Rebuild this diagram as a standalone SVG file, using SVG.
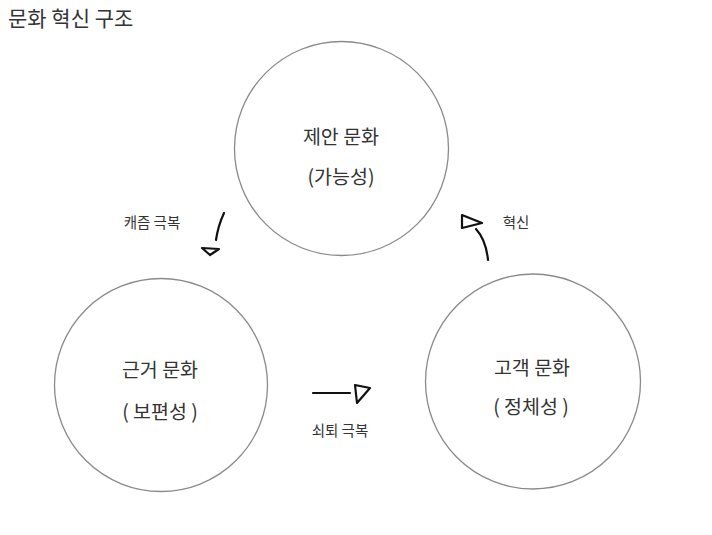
<svg xmlns="http://www.w3.org/2000/svg" width="712" height="535" viewBox="0 0 712 535">
<style>
.circ{fill:#fff;stroke:#8a8a8a;stroke-width:1.3}
.t{font-family:"Noto Sans CJK KR","Noto Sans",sans-serif;fill:#333;text-anchor:middle}
.big{font-size:19.5px}
.sm{font-size:14.5px}
.arr{fill:none;stroke:#111;stroke-width:2.2;stroke-linecap:round;stroke-linejoin:round}
</style>
<rect width="712" height="535" fill="#fff"/>
<text class="t" x="8" y="26" style="font-size:21px;text-anchor:start">문화 혁신 구조</text>
<g id="node-proposal">
<circle class="circ" cx="341.5" cy="148.5" r="107"/>
<text class="t big" x="341" y="144">제안 문화</text>
<text class="t big" x="341" y="184">(가능성)</text>
</g>
<g id="node-basis">
<circle class="circ" cx="161" cy="385" r="106.5"/>
<text class="t big" x="160" y="377">근거 문화</text>
<text class="t big" x="160" y="419">( 보편성 )</text>
</g>
<g id="node-customer">
<circle class="circ" cx="533" cy="381.5" r="107.5"/>
<text class="t big" x="532" y="375">고객 문화</text>
<text class="t big" x="531" y="414">( 정체성 )</text>
</g>
<g id="connectors">
<path class="arr" d="M224 213 Q218 226 216 240"/>
<path class="arr" d="M202 248 L219 249 L210 255 Z"/>
<path class="arr" d="M488 260 Q486 240 476 229"/>
<path class="arr" d="M462 215 L482 223 L462 228 Z"/>
<path class="arr" d="M313 393 L350 393"/>
<path class="arr" d="M355 385 L370 388 L357 403 Z"/>
<text class="t sm" x="152" y="228">캐즘 극복</text>
<text class="t sm" x="516" y="228">혁신</text>
<text class="t sm" x="340" y="436">쇠퇴 극복</text>
</g>
</svg>
